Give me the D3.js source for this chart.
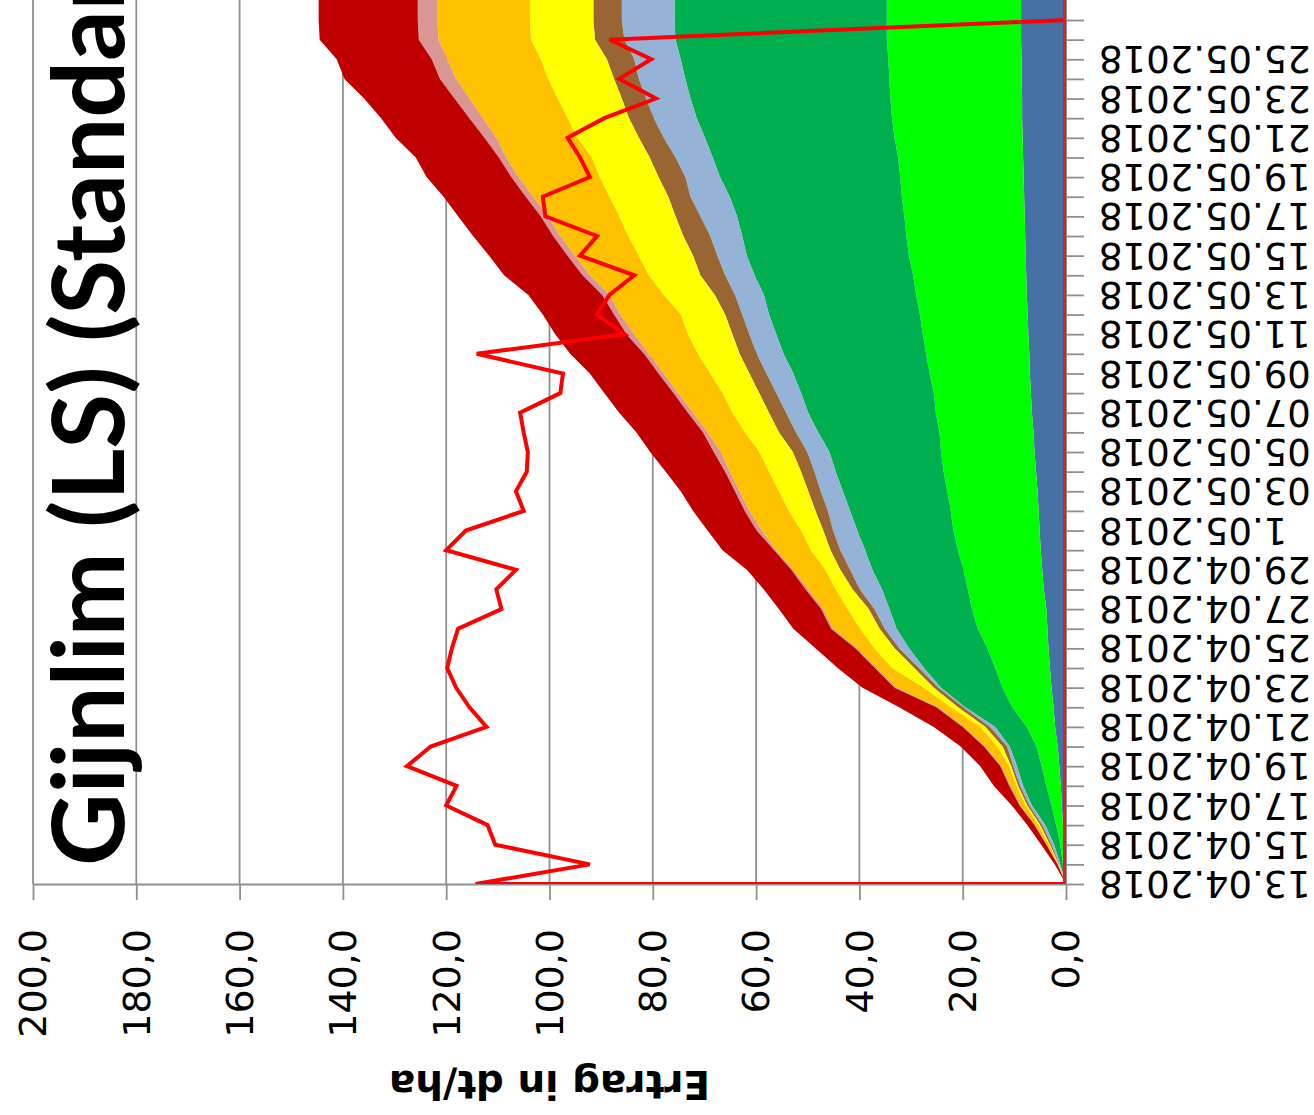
<!DOCTYPE html>
<html><head><meta charset="utf-8">
<script src="https://cdn.jsdelivr.net/npm/d3@7"></script>
<style>body{margin:0;background:#fff;overflow:hidden}svg{display:block}</style>
</head><body><svg id="c" width="1314" height="1115"></svg>
<script>
// ---------- data ----------
const title = "Gijnlim (LS) (Standard)";
const valueAxisTitle = "Ertrag in dt/ha";
const dates = ["13.04.2018","14.04.2018","15.04.2018","16.04.2018","17.04.2018","18.04.2018","19.04.2018","20.04.2018","21.04.2018","22.04.2018","23.04.2018","24.04.2018","25.04.2018","26.04.2018","27.04.2018","28.04.2018","29.04.2018","30.04.2018","01.05.2018","02.05.2018","03.05.2018","04.05.2018","05.05.2018","06.05.2018","07.05.2018","08.05.2018","09.05.2018","10.05.2018","11.05.2018","12.05.2018","13.05.2018","14.05.2018","15.05.2018","16.05.2018","17.05.2018","18.05.2018","19.05.2018","20.05.2018","21.05.2018","22.05.2018","23.05.2018","24.05.2018","25.05.2018","26.05.2018","27.05.2018","28.05.2018","29.05.2018"];
const dateTickLabels = ["13.04.2018","15.04.2018","17.04.2018","19.04.2018","21.04.2018","23.04.2018","25.04.2018","27.04.2018","29.04.2018","1.05.2018","03.05.2018","05.05.2018","07.05.2018","09.05.2018","11.05.2018","13.05.2018","15.05.2018","17.05.2018","19.05.2018","21.05.2018","23.05.2018","25.05.2018"];
const dateTickDates = ["13.04.2018","15.04.2018","17.04.2018","19.04.2018","21.04.2018","23.04.2018","25.04.2018","27.04.2018","29.04.2018","01.05.2018","03.05.2018","05.05.2018","07.05.2018","09.05.2018","11.05.2018","13.05.2018","15.05.2018","17.05.2018","19.05.2018","21.05.2018","23.05.2018","25.05.2018"];
const valueTicks = [0,20,40,60,80,100,120,140,160,180,200];
const valueTickLabels = ["0,0","20,0","40,0","60,0","80,0","100,0","120,0","140,0","160,0","180,0","200,0"];

// cumulative (stacked) upper edges of each band, in dt/ha
const cumBlue   = [0,0.2,0.4,0.6,0.8,1.0,1.3,1.6,2.1,2.4,2.8,3.1,3.4,3.6,3.8,4.3,4.6,4.9,5.1,5.3,5.5,5.8,6.1,6.3,6.6,6.8,7.0,7.1,7.3,7.4,7.6,7.7,7.8,7.9,8.0,8.1,8.2,8.3,8.4,8.5,8.5,8.6,8.6,8.7,8.7,8.7,8.7];
const cumLime   = [0,0.6,1.1,1.9,2.8,3.8,4.7,5.7,7.6,10.4,12.3,13.7,15.2,17.1,18.2,19.0,19.9,20.9,21.8,22.3,23.0,23.7,24.2,24.5,25.2,25.6,26.4,27.1,27.7,28.3,29.0,29.6,30.4,30.9,31.3,31.8,32.1,32.5,33.2,33.7,34.0,34.2,34.4,34.7,34.7,34.7,34.7];
const cumGreen  = [0,1.1,2.3,4.0,6.6,8.3,9.5,10.9,13.7,19.5,24.2,27.5,30.4,32.8,34.2,35.6,37.5,38.9,40.4,41.8,43.2,44.6,45.8,48.0,49.9,51.3,52.8,54.7,56.1,57.5,58.5,60.3,61.8,62.7,63.7,65.1,67.0,68.4,69.9,71.5,72.7,73.7,74.6,75.6,75.8,75.8,75.8];
const cumSky    = [0,1.3,2.8,4.6,7.1,8.9,10.2,11.4,14.7,19.9,24.7,28.5,32.3,35.1,37.1,39.9,41.8,43.7,45.1,46.1,47.5,48.7,50.1,52.3,54.2,56.1,58.0,59.9,61.3,62.7,64.1,66.0,67.5,68.9,70.8,72.7,73.7,75.6,77.9,79.8,81.3,82.7,83.6,85.5,86.0,86.0,86.0];
const cumBrown  = [0,1.4,3.1,5.0,7.5,9.3,10.6,12.3,15.6,20.9,25.6,29.4,33.2,36.1,38.2,41.3,43.7,45.6,47.0,48.5,49.9,51.3,52.9,55.6,57.5,59.4,61.3,63.2,64.6,66.0,68.0,70.8,72.2,74.1,75.6,77.0,78.9,80.6,82.7,84.6,86.0,87.5,88.9,91.2,91.5,91.5,91.5];
const cumYellow = [0,1.5,3.3,5.3,7.8,9.6,11.0,13.3,16.6,22.3,27.5,33.7,37.1,39.9,42.3,44.6,46.6,49.4,51.3,53.7,55.6,57.5,59.4,62.2,64.6,66.5,68.9,71.3,73.2,74.6,77.9,80.8,82.7,84.8,86.5,88.4,90.3,91.8,94.6,96.5,98.4,100.3,101.7,103.6,103.8,103.8,103.8];
const cumOrange = [0,1.6,3.7,6.0,8.8,10.8,12.5,15.6,19.7,24.7,32.8,36.6,40.4,45.1,47.0,49.9,52.8,56.1,58.9,61.3,63.2,65.1,66.8,69.4,72.2,75.1,77.9,80.8,83.6,86.3,88.4,92.2,95.1,97.9,100.3,103.2,106.0,108.4,110.3,112.9,115.5,118.1,119.8,121.5,121.7,121.7,121.7];
const cumRose   = [0,1.65,3.8,6.1,9.0,11.0,12.7,15.9,20.0,25.1,33.2,37.0,40.8,45.5,47.4,50.4,53.2,56.5,59.9,62.2,64.1,66.0,68.2,70.3,73.2,76.0,78.9,81.7,85.1,87.5,89.8,93.6,96.5,99.3,101.7,104.6,107.4,109.8,112.6,115.5,118.4,121.2,122.8,125.3,125.5,125.5,125.5];
const cumRed    = [0,2.2,4.8,7.5,10.5,14.0,16.6,20.4,25.6,32.3,39.4,44.2,48.5,52.8,55.6,58.5,61.8,66.5,69.4,72.2,74.6,77.5,80.5,83.2,86.5,89.4,92.2,96.0,98.9,101.3,104.1,108.8,111.7,114.8,117.7,120.5,123.8,125.9,129.8,132.6,135.9,139.7,141.2,144.5,144.7,144.7,144.7];
const bandColors = ["#4671A5","#00FF00","#00B050","#95B3D7","#996633","#FFFF00","#FFC000","#DA9694","#C00000"];

// red line (daily value)
const lineDates  = ["13.04.2018","13.04.2018","14.04.2018","15.04.2018","16.04.2018","17.04.2018","18.04.2018","19.04.2018","20.04.2018","21.04.2018","22.04.2018","23.04.2018","24.04.2018","25.04.2018","26.04.2018","27.04.2018","28.04.2018","29.04.2018","30.04.2018","01.05.2018","02.05.2018","03.05.2018","04.05.2018","05.05.2018","06.05.2018","07.05.2018","08.05.2018","09.05.2018","10.05.2018","11.05.2018","12.05.2018","13.05.2018","14.05.2018","15.05.2018","16.05.2018","17.05.2018","18.05.2018","19.05.2018","20.05.2018","21.05.2018","22.05.2018","23.05.2018","24.05.2018","25.05.2018","26.05.2018","27.05.2018","28.05.2018","29.05.2018"];
const lineValues = [0,114.3,92.2,110.5,112.0,120.0,118.0,127.6,123.0,112.2,115.5,118.1,119.8,118.9,117.7,109.3,110.3,106.5,120.0,116.2,105.0,106.5,104.4,104.2,105.0,105.7,97.9,97.4,114.1,85.5,90.8,88.4,83.6,94.1,90.8,100.8,101.3,92.2,94.1,96.5,89.4,79.4,86.5,80.3,88.4,0,0,0];

// ---------- drawing ----------
const svg = d3.select("#c");
const parse = d3.utcParse("%d.%m.%Y");
const x = d3.scaleLinear().domain([0, 200]).range([1066, 33]);
const y = d3.scaleUtc().domain([parse("13.04.2018"), parse("27.05.2018")]).range([884, 20]);
const gridCol = "#8f8f8f";

svg.append("defs").append("clipPath").attr("id","plot")
  .append("rect").attr("x", x(200)).attr("y", -300).attr("width", x(0)-x(200)).attr("height", y(parse("13.04.2018")) + 300);

// gridlines
svg.append("g").selectAll("line").data(valueTicks.filter(v => v > 0)).join("line")
  .attr("x1", d => x(d)).attr("x2", d => x(d))
  .attr("y1", y(parse("13.04.2018"))).attr("y2", -300)
  .attr("stroke", gridCol).attr("stroke-width", 1.8);

// stacked bands
const cums = [cumBlue, cumLime, cumGreen, cumSky, cumBrown, cumYellow, cumOrange, cumRose, cumRed];
const pd = dates.map(parse);
const bands = svg.append("g").attr("clip-path", "url(#plot)");
cums.forEach((c, k) => {
  const prev = k === 0 ? null : cums[k-1];
  const pts = pd.map((d, i) => ({d, lo: prev ? prev[i] : 0, hi: c[i]}));
  const area = d3.area().y(p => y(p.d)).x0(p => x(p.lo)).x1(p => x(p.hi));
  bands.append("path").datum(pts).attr("d", area).attr("fill", bandColors[k]);
});

// value axis (bottom)
const xa = svg.append("g").attr("transform", `translate(0,${y(parse("13.04.2018"))})`)
  .call(d3.axisBottom(x).tickValues(valueTicks).tickSize(16).tickSizeOuter(0).tickFormat(""));
xa.select(".domain").attr("stroke", gridCol).attr("stroke-width", 2);
xa.selectAll(".tick line").attr("stroke", gridCol).attr("stroke-width", 1.8);

// date axis (right, at value 0)
const ya = svg.append("g").attr("transform", `translate(${x(0)},0)`)
  .call(d3.axisRight(y).ticks(d3.utcDay.every(1)).tickSize(18).tickSizeOuter(0).tickFormat(""));
ya.select(".domain").remove();
ya.selectAll(".tick line").attr("stroke", gridCol).attr("stroke-width", 1.8);
svg.append("line").attr("x1", x(0)).attr("x2", x(0)).attr("y1", y(parse("13.04.2018"))).attr("y2", -300)
  .attr("stroke", gridCol).attr("stroke-width", 2);

// red line
const lp = lineDates.map((d, i) => ({d: parse(d), v: lineValues[i]}));
svg.append("g").attr("clip-path", "url(#plot)").append("path").datum(lp)
  .attr("d", d3.line().x(p => x(p.v)).y(p => y(p.d)))
  .attr("fill", "none").attr("stroke", "#FF0000").attr("stroke-width", 4).attr("stroke-linejoin", "miter");
svg.append("line").attr("x1", x(0) - 1.5).attr("x2", x(0) - 1.5)
  .attr("y1", y(parse("13.04.2018"))).attr("y2", -300)
  .attr("stroke", "#E02020").attr("stroke-width", 3);

// value tick labels (rotated)
svg.append("g").selectAll("text").data(valueTicks).join("text")
  .attr("transform", d => `translate(${x(d)},929) rotate(-90)`)
  .attr("text-anchor", "end").attr("dy", "0.35em")
  .style("font-family", "DejaVu Sans").style("font-size", "38px").attr("fill", "#000")
  .text((d, i) => valueTickLabels[i]);

// date tick labels (upside down)
svg.append("g").selectAll("text").data(dateTickDates).join("text")
  .attr("transform", d => `translate(1099,${y(parse(d))}) rotate(180)`)
  .attr("text-anchor", "end").attr("dy", "0.35em")
  .style("font-family", "DejaVu Sans").style("font-size", "37px").attr("fill", "#000")
  .text((d, i) => dateTickLabels[i]);

// value axis title
svg.append("text").attr("transform", `translate(${(x(0)+x(200))/2},1071) rotate(180)`)
  .attr("text-anchor", "middle")
  .style("font-family", "DejaVu Sans").style("font-weight", "bold").style("font-size", "39px")
  .text(valueAxisTitle);

// chart title
svg.append("text").attr("transform", "translate(124,866) rotate(-90)")
  .attr("text-anchor", "start")
  .style("font-family", "Lato").style("font-weight", "bold").style("font-size", "100px")
  .text(title);
</script></body></html>
